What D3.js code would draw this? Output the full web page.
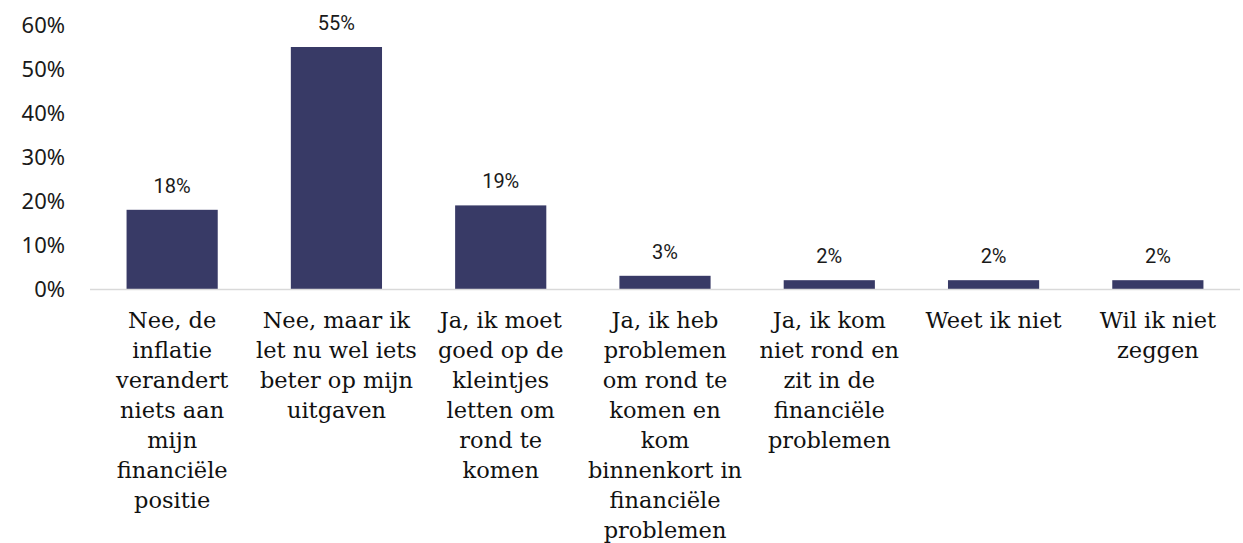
<!DOCTYPE html>
<html><head><meta charset="utf-8">
<script src="https://cdn.jsdelivr.net/npm/d3@7"></script>
<style>body{margin:0;background:#fff}svg{display:block}</style>
</head><body>
<svg id="c" width="1243" height="543"></svg>
<script>
const categories = [
  ["Nee, de","inflatie","verandert","niets aan","mijn","financiële","positie"],
  ["Nee, maar ik","let nu wel iets","beter op mijn","uitgaven"],
  ["Ja, ik moet","goed op de","kleintjes","letten om","rond te","komen"],
  ["Ja, ik heb","problemen","om rond te","komen en","kom","binnenkort in","financiële","problemen"],
  ["Ja, ik kom","niet rond en","zit in de","financiële","problemen"],
  ["Weet ik niet"],
  ["Wil ik niet","zeggen"]
];
const values = [18, 55, 19, 3, 2, 2, 2];
const yTicks = [0, 10, 20, 30, 40, 50, 60];

const svg = d3.select("#c");
const x = d3.scaleBand().domain(d3.range(values.length)).range([90, 1240]).paddingInner(0.445).paddingOuter(0.2225);
const y = d3.scaleLinear().domain([0, 60]).range([289, 25]);

// y tick labels
svg.append("g").selectAll("text").data(yTicks).join("text")
  .attr("x", 65).attr("y", d => y(d)).attr("dy", "0.36em")
  .attr("text-anchor", "end")
  .attr("font-family", "'Noto Sans', sans-serif").attr("font-size", 22).attr("fill", "#1a1a1a")
  .text(d => d + "%");

// bars
svg.append("g").selectAll("rect").data(values).join("rect")
  .attr("x", (d, i) => x(i)).attr("width", x.bandwidth())
  .attr("y", d => y(d)).attr("height", d => y(0) - y(d))
  .attr("fill", "#383a66");

// axis line
svg.append("line").attr("x1", 90).attr("x2", 1240).attr("y1", y(0) + 0.5).attr("y2", y(0) + 0.5)
  .attr("stroke", "#d9d9d9").attr("stroke-width", 1.5);

// data labels
svg.append("g").selectAll("text").data(values).join("text")
  .attr("x", (d, i) => x(i) + x.bandwidth() / 2).attr("y", d => y(d) - 17)
  .attr("text-anchor", "middle")
  .attr("font-family", "Roboto, sans-serif").attr("font-size", 20).attr("fill", "#1a1a1a")
  .text(d => d + "%");

// category labels
const cg = svg.append("g").selectAll("text").data(categories).join("text")
  .attr("text-anchor", "middle")
  .attr("font-family", "'DejaVu Serif', serif").attr("font-size", 22.5).attr("fill", "#111")
  .attr("transform", (d, i) => `translate(${x(i) + x.bandwidth() / 2},328)`);
cg.selectAll("tspan").data(d => d).join("tspan")
  .attr("x", 0).attr("y", (d, j) => j * 30).text(d => d);
</script>
</body></html>
